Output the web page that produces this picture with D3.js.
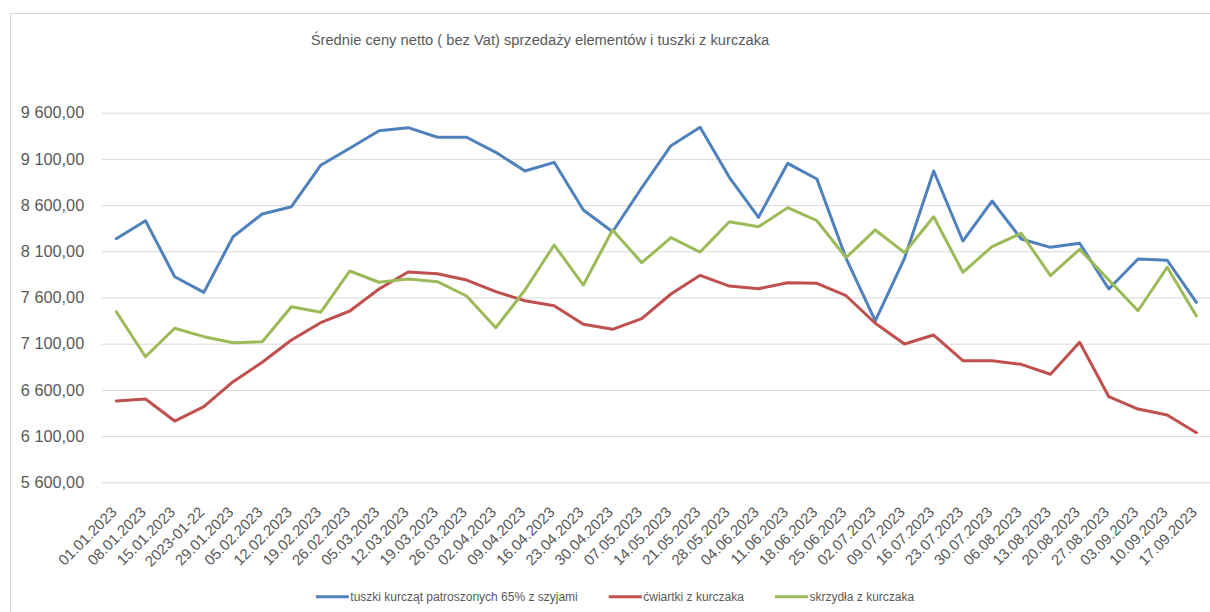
<!DOCTYPE html>
<html>
<head>
<meta charset="utf-8">
<script src="https://cdn.jsdelivr.net/npm/d3@7"></script>
<style>
  body { margin: 0; background: #fff; }
  text { font-family: "Liberation Sans", Arial, sans-serif; fill: #595959; }
</style>
</head>
<body>
<svg id="chart"></svg>
<script>
// dane
const dates = ["01.01.2023", "08.01.2023", "15.01.2023", "2023-01-22", "29.01.2023", "05.02.2023",
  "12.02.2023", "19.02.2023", "26.02.2023", "05.03.2023", "12.03.2023", "19.03.2023", "26.03.2023",
  "02.04.2023", "09.04.2023", "16.04.2023", "23.04.2023", "30.04.2023", "07.05.2023", "14.05.2023",
  "21.05.2023", "28.05.2023", "04.06.2023", "11.06.2023", "18.06.2023", "25.06.2023", "02.07.2023",
  "09.07.2023", "16.07.2023", "23.07.2023", "30.07.2023", "06.08.2023", "13.08.2023", "20.08.2023",
  "27.08.2023", "03.09.2023", "10.09.2023", "17.09.2023"];

const tuszki = [8236, 8431, 7825, 7656, 8258, 8504, 8583, 9031, 9215, 9405, 9438, 9334, 9334,
  9171, 8969, 9063, 8547, 8312, 8788, 9243, 9442, 8901, 8468, 9052, 8882, 8024, 7346,
  8024, 8969, 8211, 8644, 8233, 8143, 8187, 7692, 8017, 8003, 7548];

const cwiartki = [6480, 6502, 6263, 6418, 6689, 6899, 7140, 7327, 7454, 7692, 7876, 7858, 7789,
  7663, 7565, 7511, 7310, 7256, 7371, 7638, 7840, 7724, 7695, 7760, 7753, 7619, 7321,
  7097, 7194, 6916, 6916, 6877, 6769, 7115, 6526, 6393, 6328, 6137];

const skrzydla = [7446, 6959, 7267, 7176, 7111, 7122, 7500, 7440, 7887, 7765, 7800, 7771, 7616,
  7273, 7681, 8168, 7735, 8331, 7977, 8247, 8092, 8420, 8366, 8572, 8431, 8031, 8331,
  8085, 8474, 7873, 8150, 8295, 7836, 8122, 7789, 7457, 7927, 7400];

const yTicks = [5600, 6100, 6600, 7100, 7600, 8100, 8600, 9100, 9600];

const seriesNames = ["tuszki kurcząt patroszonych 65% z szyjami", "ćwiartki z kurczaka", "skrzydła z kurczaka"];
const seriesColors = ["#4F81BD", "#C0504D", "#9BBB59"];

const title = "Średnie ceny netto ( bez Vat) sprzedaży elementów i tuszki z kurczaka";

const width = 1210, height = 612;
const plot = { left: 101.7, right: 1211, top: 112.7, bottom: 482.3 };

const svg = d3.select("#chart").attr("width", width).attr("height", height);

// ramka obszaru wykresu
svg.append("rect")
  .attr("x", 10.5).attr("y", 13.5)
  .attr("width", 1400).attr("height", 800)
  .attr("fill", "none").attr("stroke", "#D9D9D9");

svg.append("text")
  .attr("x", 540).attr("y", 45)
  .attr("text-anchor", "middle")
  .style("font-size", "14.7px")
  .text(title);

const x = d3.scalePoint()
  .domain(dates)
  .range([plot.left, plot.right])
  .padding(0.5);

const y = d3.scaleLinear()
  .domain([5600, 9600])
  .range([plot.bottom, plot.top]);

const pl = d3.formatLocale({ decimal: ",", thousands: "\u00a0", grouping: [3], currency: ["", ""] });
const fmt = pl.format(",.2f");

// linie siatki
svg.append("g")
  .attr("transform", `translate(${plot.left},0)`)
  .call(d3.axisLeft(y).tickValues(yTicks).tickSize(-(plot.right - plot.left)).tickFormat(""))
  .call(g => g.select(".domain").remove())
  .call(g => g.selectAll("line").attr("stroke", "#D9D9D9").attr("stroke-width", 1));

// opisy osi Y
svg.append("g")
  .attr("transform", `translate(${plot.left},0)`)
  .call(d3.axisLeft(y).tickValues(yTicks).tickSize(0).tickPadding(17.5).tickFormat(fmt))
  .call(g => g.select(".domain").remove())
  .call(g => g.selectAll("text").style("font-size", "16.3px").attr("fill", "#595959"));

// opisy osi X
svg.append("g")
  .attr("transform", `translate(0,${plot.bottom})`)
  .call(d3.axisBottom(x).tickSize(0))
  .call(g => g.select(".domain").remove())
  .call(g => g.selectAll("text")
    .attr("y", 0).attr("x", 0).attr("dy", null)
    .attr("text-anchor", "end")
    .attr("dominant-baseline", "central")
    .attr("transform", "translate(-3,27) rotate(-45)")
    .style("font-size", "15px")
    .attr("fill", "#595959"));

const line = d3.line()
  .x((d, i) => x(dates[i]))
  .y(d => y(d));

[tuszki, cwiartki, skrzydla].forEach((s, k) => {
  svg.append("path")
    .datum(s)
    .attr("fill", "none")
    .attr("stroke", seriesColors[k])
    .attr("stroke-width", 3)
    .attr("stroke-linejoin", "round")
    .attr("stroke-linecap", "round")
    .attr("d", line);
});

// legenda
const legend = svg.append("g");
const sample = 33, gapText = 1.5, gapItem = 31;
let lx = 0;
seriesNames.forEach((name, k) => {
  const item = legend.append("g").attr("transform", `translate(${lx},0)`);
  item.append("line")
    .attr("x1", 0).attr("x2", sample)
    .attr("stroke", seriesColors[k]).attr("stroke-width", 3);
  const t = item.append("text")
    .attr("x", sample + gapText)
    .attr("dominant-baseline", "central")
    .style("font-size", "12px")
    .text(name);
  lx += sample + gapText + t.node().getComputedTextLength() + gapItem;
});
lx -= gapItem;
legend.attr("transform", `translate(${615 - lx / 2},596.7)`);
</script>
</body>
</html>
